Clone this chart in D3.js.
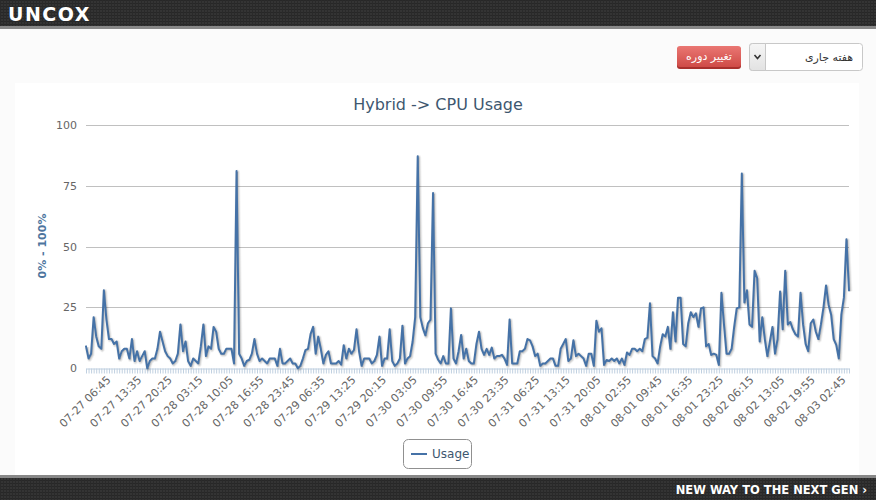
<!DOCTYPE html>
<html>
<head>
<meta charset="utf-8">
<script src="https://cdn.jsdelivr.net/npm/d3@7/dist/d3.min.js"></script>
<style>
html,body{margin:0;padding:0;overflow:hidden;background:#fbfbfb;}
svg{display:block;font-family:"DejaVu Sans",Verdana,sans-serif;}
</style>
</head>
<body>
<svg id="chart" width="876" height="500"></svg>
<script>
// ---- data ----
const values = [
9,4,6,21,13,9,8,32,20,12,
12,10,11,4,7,8,8,4,12,3,
7,3,5,7,0,3,4,4,8,15,
11,7,5,4,2,3,6,18,7,11,
3,1,4,3,2,9,18,5,9,8,
17,15,8,6,6,8,8,8,2,81,
6,4,1,3,3.5,6,12,6,3,4,
3,2,4,4,4,1,8,2,2,3,
4,2,2,0,1,4,7.5,8,14,17,
6,13,8,2,5.5,7,2,2,2,3,
1.5,9.5,4,8,6,7.5,16,7,1,4,
4,4,2,3,5.5,13,1,4,4,16,
3,1,2,4,17.5,2,4,5,11,21,
87,21,16.5,13.5,18.5,20,72,6,3.5,2,
5,2,2,24.6,4,2,7,13.7,4,8,
3,2,2,10,15,8,5.5,8,5.5,8.5,
4,5,5,5.5,4,1.4,20,2,2,2,
7,7,8,12,11.5,9,5,6,1,2,
2,3,4,4,1,1,8,10,12,3,
4,11.5,5,6,5,4,1,6,6,1,
19.5,15,16.4,1.4,3.4,3,4,3,4,2,
4,1.4,6.5,5.5,8,8,7,8,7,12,
12.6,26.7,5,4,2,9,14,13,17,8,
23,11,29,29,10,9,18.5,23,21,22.6,
17,24.6,25,9,10,5.5,6,5.5,1.4,31,
18,6,6,8,17,24.6,25,80,27,32,
18,17,40,37,11,21,12,5,11,17,
6,12,31.5,16,40,18,19,16,14,13,
31,18,10,7,18.5,20,15,12,18,25,
34,26,22,12,9.6,4,22,29,53,32
];
const tickLabels = [
"07-27 06:45","07-27 13:35","07-27 20:25","07-28 03:15","07-28 10:05",
"07-28 16:55","07-28 23:45","07-29 06:35","07-29 13:25","07-29 20:15",
"07-30 03:05","07-30 09:55","07-30 16:45","07-30 23:35","07-31 06:25",
"07-31 13:15","07-31 20:05","08-01 02:55","08-01 09:45","08-01 16:35",
"08-01 23:25","08-02 06:15","08-02 13:05","08-02 19:55","08-03 02:45"
];
const yTicks = [0,25,50,75,100];
const seriesName = "Usage";
const chartTitle = "Hybrid -> CPU Usage";
const yTitle = "0% - 100%";
const firstLabelIndex = 9, labelStep = 12;

// ---- drawing ----
const svg = d3.select("#chart");
const defs = svg.append("defs");
const pat = defs.append("pattern").attr("id","tex").attr("width",3).attr("height",3).attr("patternUnits","userSpaceOnUse");
pat.append("rect").attr("width",3).attr("height",3).attr("fill","#343434");
pat.append("rect").attr("width",3).attr("height",1).attr("fill","#272727");
pat.append("rect").attr("width",1).attr("height",3).attr("fill","#2a2a2a");
const bg = defs.append("linearGradient").attr("id","btn").attr("x1",0).attr("y1",0).attr("x2",0).attr("y2",1);
bg.append("stop").attr("offset","0%").attr("stop-color","#ea7773");
bg.append("stop").attr("offset","100%").attr("stop-color","#cf4b47");
const sg = defs.append("linearGradient").attr("id","sel").attr("x1",0).attr("y1",0).attr("x2",0).attr("y2",1);
sg.append("stop").attr("offset","0%").attr("stop-color","#f6f6f6");
sg.append("stop").attr("offset","100%").attr("stop-color","#e2e2e2");

// page
svg.append("rect").attr("x",0).attr("y",29).attr("width",876).attr("height",446).attr("fill","#fbfbfb");
svg.append("rect").attr("x",15).attr("y",83).attr("width",844).attr("height",392).attr("fill","#ffffff");

// header
svg.append("rect").attr("x",0).attr("y",0).attr("width",876).attr("height",26).attr("fill","url(#tex)");
svg.append("rect").attr("x",0).attr("y",26).attr("width",876).attr("height",3).attr("fill","#888");
svg.append("text").attr("x",8).attr("y",21).attr("fill","#fff").attr("font-size",19).attr("font-weight","bold")
  .attr("letter-spacing",1.5).text("UNCOX");

// footer
svg.append("rect").attr("x",0).attr("y",475).attr("width",876).attr("height",3).attr("fill","#888");
svg.append("rect").attr("x",0).attr("y",478).attr("width",876).attr("height",22).attr("fill","url(#tex)");
svg.append("text").attr("x",867).attr("y",494).attr("text-anchor","end").attr("fill","#fff")
  .attr("font-size",11.5).attr("font-weight","bold").text("NEW WAY TO THE NEXT GEN ›");

// controls
svg.append("rect").attr("x",749.5).attr("y",43.5).attr("width",113).attr("height",27).attr("rx",3)
  .attr("fill","#fff").attr("stroke","#c8c8c8");
svg.append("path").attr("d","M752.5,43.5 H765.5 V70.5 H752.5 Q749.5,70.5 749.5,67.5 V46.5 Q749.5,43.5 752.5,43.5 Z")
  .attr("fill","url(#sel)").attr("stroke","#c8c8c8");
svg.append("path").attr("d","M754.5,55 L757.5,58.5 L760.5,55").attr("fill","none").attr("stroke","#333").attr("stroke-width",1.6);
svg.append("text").attr("x",829).attr("y",61).attr("text-anchor","middle").attr("font-size",11).attr("fill","#333").text("هفته جاری");
svg.append("rect").attr("x",677).attr("y",47).attr("width",64).attr("height",22).attr("rx",3).attr("fill","#a9302d");
svg.append("rect").attr("x",677).attr("y",46).attr("width",64).attr("height",21).attr("rx",3).attr("fill","url(#btn)");
svg.append("text").attr("x",709).attr("y",60).attr("text-anchor","middle").attr("font-size",11).attr("fill","#fff").text("تغییر دوره");

// scales
const x = d3.scalePoint().domain(d3.range(values.length)).range([86, 849]);
const y = d3.scaleLinear().domain([0,100]).range([368.3, 124.7]);

// title
svg.append("text").attr("x",438).attr("y",110).attr("text-anchor","middle").attr("font-size",16)
  .attr("fill","#3e576f").text(chartTitle);

// grid
svg.append("g").selectAll("line").data(yTicks.filter(d=>d>0)).join("line")
  .attr("x1",86).attr("x2",849).attr("y1",d=>Math.round(y(d))+0.5).attr("y2",d=>Math.round(y(d))+0.5)
  .attr("stroke","#c0c0c0").attr("stroke-width",1);

// y axis labels
const yAxis = svg.append("g").attr("transform","translate(86,0)")
  .call(d3.axisLeft(y).tickValues(yTicks).tickSize(0).tickPadding(9));
yAxis.select(".domain").remove();
yAxis.selectAll("text").attr("font-size",11).attr("fill","#666").attr("font-family","DejaVu Sans, Verdana, sans-serif");

// y title
svg.append("text").attr("transform","translate(46,246) rotate(-90)").attr("text-anchor","middle")
  .attr("font-size",11).attr("font-weight","bold").attr("fill","#4d759e").text(yTitle);

// x axis
const labelMap = new Map(tickLabels.map((t,i)=>[firstLabelIndex + i*labelStep, t]));
const xAxis = svg.append("g").attr("transform",`translate(0,${Math.round(y(0))+0.5})`)
  .call(d3.axisBottom(x).tickValues(d3.range(values.length)).tickSize(5).tickSizeOuter(0)
    .tickFormat(i => labelMap.get(i) || ""));
xAxis.select(".domain").attr("stroke","#c0d0e0");
xAxis.selectAll(".tick line").attr("stroke","#c0d0e0");
xAxis.selectAll(".tick text")
  .attr("font-size",11).attr("fill","#666").attr("font-family","DejaVu Sans, Verdana, sans-serif")
  .attr("x",0).attr("y",0).attr("dy",0).attr("text-anchor","end")
  .attr("transform","translate(2,12) rotate(-45)");

// line + shadow
const line = d3.line().x((d,i)=>x(i)).y(d=>y(d));
const shadowG = svg.append("g").attr("transform","translate(1,1)");
[[5,0.05],[3,0.1],[1,0.15]].forEach(([w,o])=>{
  shadowG.append("path").datum(values).attr("d",line).attr("fill","none")
    .attr("stroke","#000").attr("stroke-opacity",o).attr("stroke-width",w).attr("stroke-linejoin","round");
});
svg.append("path").datum(values).attr("d",line).attr("fill","none")
  .attr("stroke","#4572a7").attr("stroke-width",2).attr("stroke-linejoin","round").attr("stroke-linecap","round");

// legend
const lg = svg.append("g");
lg.append("rect").attr("x",403.5).attr("y",439.5).attr("width",68).attr("height",29).attr("rx",5)
  .attr("fill","#fff").attr("stroke","#909090");
lg.append("line").attr("x1",411).attr("x2",427).attr("y1",454).attr("y2",454).attr("stroke","#4572a7").attr("stroke-width",2);
lg.append("text").attr("x",432).attr("y",458).attr("font-size",12).attr("fill","#3e576f").text(seriesName);
</script>
</body>
</html>
